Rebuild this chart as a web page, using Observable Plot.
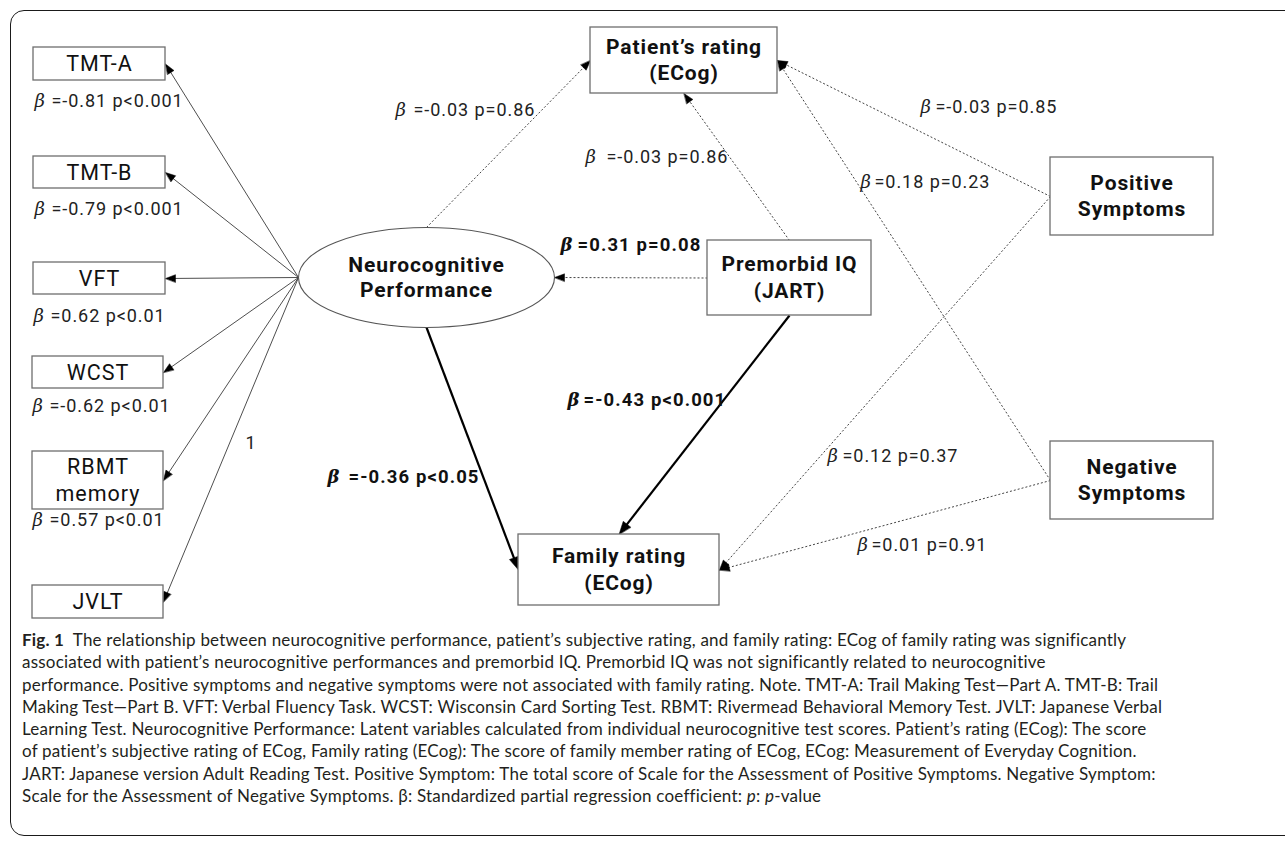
<!DOCTYPE html>
<html><head><meta charset="utf-8">
<script src="https://cdn.jsdelivr.net/npm/d3@7"></script>
<script src="https://cdn.jsdelivr.net/npm/@observablehq/plot@0.6"></script>
<style>
html,body{margin:0;padding:0;background:#fff;overflow:hidden;width:1285px;height:845px}
#frame{position:absolute;left:10px;top:10px;width:1300px;height:826px;border:1.5px solid #1a1a1a;border-radius:14px;box-sizing:border-box}
#chart{position:absolute;left:0;top:0}
#caption{position:absolute;left:22px;top:629px;font-family:Lato,"Open Sans",sans-serif;font-size:17px;line-height:22.3px;color:#231f20;white-space:pre}
#caption div{display:block}
#caption span.l{display:inline-block}
</style></head><body>
<div id="frame"></div><div id="chart"></div><div id="caption"></div>
<script>
// ---------------- data ----------------
const indicators = ["TMT-A", "TMT-B", "VFT", "WCST", "RBMT\nmemory", "JVLT"];
const loadingBeta = ["-0.81", "-0.79", "0.62", "-0.62", "0.57", null];
const loadingP = ["<0.001", "<0.001", "<0.01", "<0.01", "<0.01", null];
const fixedLoadingLabel = "1";

const constructIds = ["neuro", "patient", "premorbid", "positive", "negative", "family"];
const constructLabels = ["Neurocognitive\nPerformance", "Patient’s rating\n(ECog)", "Premorbid IQ\n(JART)", "Positive\nSymptoms", "Negative\nSymptoms", "Family rating\n(ECog)"];

const pathFrom = ["neuro", "premorbid", "positive", "negative", "premorbid", "premorbid", "neuro", "positive", "negative"];
const pathTo   = ["patient", "patient", "patient", "patient", "neuro", "family", "family", "family", "family"];
const pathBeta = ["-0.03", "-0.03", "-0.03", "0.18", "0.31", "-0.43", "-0.36", "0.12", "0.01"];
const pathPOp  = ["=", "=", "=", "=", "=", "<", "<", "=", "="];
const pathP    = ["0.86", "0.86", "0.85", "0.23", "0.08", "0.001", "0.05", "0.37", "0.91"];

const captionLead = "Fig. 1";
const captionLines = [
  "The relationship between neurocognitive performance, patient’s subjective rating, and family rating: ECog of family rating was significantly",
  "associated with patient’s neurocognitive performances and premorbid IQ. Premorbid IQ was not significantly related to neurocognitive",
  "performance. Positive symptoms and negative symptoms were not associated with family rating. Note. TMT-A: Trail Making Test—Part A. TMT-B: Trail",
  "Making Test—Part B. VFT: Verbal Fluency Task. WCST: Wisconsin Card Sorting Test. RBMT: Rivermead Behavioral Memory Test. JVLT: Japanese Verbal",
  "Learning Test. Neurocognitive Performance: Latent variables calculated from individual neurocognitive test scores. Patient’s rating (ECog): The score",
  "of patient’s subjective rating of ECog, Family rating (ECog): The score of family member rating of ECog, ECog: Measurement of Everyday Cognition.",
  "JART: Japanese version Adult Reading Test. Positive Symptom: The total score of Scale for the Assessment of Positive Symptoms. Negative Symptom:",
  "Scale for the Assessment of Negative Symptoms. β: Standardized partial regression coefficient: p: p-value"
];

// ---------------- layout ----------------
const W = 1285, H = 625;
const boxes = [ // x1, y1, x2, y2 (pixels)
  [33, 47, 165, 80], [33, 156, 165, 188], [33, 262, 165, 294], [32, 356, 163, 388], [32, 451, 163, 509], [32, 585, 163, 618]
];
const constructBoxes = {
  patient: [590, 27, 777, 93], premorbid: [707, 240, 871, 315],
  positive: [1050, 157, 1213, 235], negative: [1050, 441, 1213, 519], family: [518, 534, 719, 605]
};
const ellipses = {neuro: {cx: 426, cy: 277, rx: 128, ry: 50}};
const pathSides = [["top","left"],["top","bottom"],["left","right"],["left","right"],["left","right"],["bottom","top"],["bottom","left"],["left","right"],["left","right"]];
const loadingLabelPos = [[34, 101, 17], [34, 209, 17], [33, 316, 17], [32, 406, 17], [32, 520, 17]];
const fixedLabelPos = [245, 443];
const pathLabelPos = [[395,110,18],[585,157,21],[920,107,15],[860,182,14],[560,245,17],[567,400,16],[327,477,21],[827,456,15],[857,545,14]];
const FONT = "Roboto, 'Noto Sans', sans-serif";
const BETA_FONT = "'DejaVu Serif', serif";

function anchorOf(rect, side) {
  const [x1, y1, x2, y2] = rect, mx = (x1 + x2) / 2, my = (y1 + y2) / 2;
  return side === "left" ? [x1, my] : side === "right" ? [x2, my] : side === "top" ? [mx, y1] : [mx, y2];
}
function anchor(id, side) {
  if (ellipses[id]) { const e = ellipses[id]; return anchorOf([e.cx - e.rx, e.cy - e.ry, e.cx + e.rx, e.cy + e.ry], side); }
  return anchorOf(constructBoxes[id], side);
}
function splitLines(label, cx, cy, step) {
  const parts = label.split("\n");
  return parts.map((t, j) => ({x: cx, y: cy + (j - (parts.length - 1) / 2) * step, t}));
}

// edges
const edges = [];
indicators.forEach((name, i) => {
  const [x1, y1] = anchor("neuro", "left"), [x2, y2] = anchorOf(boxes[i], "right");
  edges.push({x1, y1, x2, y2, kind: "thin"});
});
pathFrom.forEach((f, i) => {
  const [x1, y1] = anchor(f, pathSides[i][0]), [x2, y2] = anchor(pathTo[i], pathSides[i][1]);
  edges.push({x1, y1, x2, y2, kind: pathPOp[i] === "<" ? "thick" : "dotted"});
});
const heads = [];
const lines = edges.map((e, k) => {
  const dx = e.x2 - e.x1, dy = e.y2 - e.y1, len = Math.hypot(dx, dy), ux = dx / len, uy = dy / len;
  const L = e.kind === "thick" ? 13 : 10, w = e.kind === "thick" ? 9.5 : 7.5;
  const bx = e.x2 - ux * L, by = e.y2 - uy * L, nx = -uy, ny = ux;
  heads.push({id: k, x: e.x2, y: e.y2}, {id: k, x: bx + nx * w / 2, y: by + ny * w / 2}, {id: k, x: bx - nx * w / 2, y: by - ny * w / 2});
  return {...e, x2: e.x2 - ux * L * 0.6, y2: e.y2 - uy * L * 0.6};
});

// rects & labels
const rectRows = boxes.map((b, i) => ({x1: b[0], y1: b[1], x2: b[2], y2: b[3]}));
const constructRectRows = Object.keys(constructBoxes).map(id => {
  const b = constructBoxes[id]; return {x1: b[0], y1: b[1], x2: b[2], y2: b[3], id};
});
const indicatorLabelRows = boxes.flatMap((b, i) => splitLines(indicators[i], (b[0] + b[2]) / 2, (b[1] + b[3]) / 2 + 0.5, 27));
const constructLabelRows = constructIds.flatMap((id, i) => {
  const e = ellipses[id];
  if (e) return splitLines(constructLabels[i], e.cx, e.cy + 0.5, 25.5);
  const b = constructBoxes[id];
  return splitLines(constructLabels[i], (b[0] + b[2]) / 2, (b[1] + b[3]) / 2, 26.5);
});
const ellipseRows = Object.keys(ellipses).map(id => ({id, ...ellipses[id]}));
const ellipseSymbol = {
  draw(ctx, size) {
    const r = Math.sqrt(size / Math.PI), rx = r, ry = r * ellipses.neuro.ry / ellipses.neuro.rx, k = 0.5522847498;
    ctx.moveTo(rx, 0);
    ctx.bezierCurveTo(rx, ry * k, rx * k, ry, 0, ry);
    ctx.bezierCurveTo(-rx * k, ry, -rx, ry * k, -rx, 0);
    ctx.bezierCurveTo(-rx, -ry * k, -rx * k, -ry, 0, -ry);
    ctx.bezierCurveTo(rx * k, -ry, rx, -ry * k, rx, 0);
    ctx.closePath();
  }
};

// coefficient labels
const regBeta = [], regRest = [], boldBeta = [], boldRest = [];
loadingBeta.forEach((b, i) => {
  if (b == null) return;
  const [x, y, g] = loadingLabelPos[i];
  regBeta.push({x, y, t: "β"}); regRest.push({x: x + g, y, t: `=${b} p${loadingP[i]}`});
});
pathBeta.forEach((b, i) => {
  const [x, y, g] = pathLabelPos[i];
  const bold = +pathP[i] <= 0.08;
  (bold ? boldBeta : regBeta).push({x, y, t: "β"});
  (bold ? boldRest : regRest).push({x: x + g, y, t: `=${b} p${pathPOp[i]}${pathP[i]}`});
});

const chart = Plot.plot({
  width: W, height: H, margin: 0,
  x: {domain: [0, W], range: [0, W], axis: null},
  y: {domain: [0, H], range: [0, H], axis: null},
  style: {background: "transparent", overflow: "visible"},
  marks: [
    Plot.link(lines.filter(d => d.kind === "thin"), {x1: "x1", y1: "y1", x2: "x2", y2: "y2", stroke: "#3a3a3a", strokeWidth: 0.9}),
    Plot.link(lines.filter(d => d.kind === "dotted"), {x1: "x1", y1: "y1", x2: "x2", y2: "y2", stroke: "#444", strokeWidth: 1, strokeDasharray: "2,2"}),
    Plot.link(lines.filter(d => d.kind === "thick"), {x1: "x1", y1: "y1", x2: "x2", y2: "y2", stroke: "#000", strokeWidth: 2.2}),
    Plot.line(heads, {x: "x", y: "y", z: "id", curve: "linear-closed", fill: "#000", stroke: "#000", strokeWidth: 0.5}),
    Plot.rect(rectRows, {x1: "x1", y1: "y1", x2: "x2", y2: "y2", fill: "white", stroke: "#6e6e6e", strokeWidth: 1.3}),
    Plot.rect(constructRectRows, {x1: "x1", y1: "y1", x2: "x2", y2: "y2", fill: "white", stroke: "#6e6e6e", strokeWidth: 1.3}),
    Plot.dot(ellipseRows, {x: "cx", y: "cy", r: ellipses.neuro.rx, symbol: ellipseSymbol, fill: "white", stroke: "#555", strokeWidth: 1.1}),
    Plot.text(indicatorLabelRows, {x: "x", y: "y", text: "t", fontSize: 21.5, fill: "#111", fontFamily: FONT}),
    Plot.text(constructLabelRows, {x: "x", y: "y", text: "t", fontSize: 21, fontWeight: "bold", fill: "#111", fontFamily: FONT}),
    Plot.text(regBeta, {x: "x", y: "y", text: "t", fontSize: 18, fontStyle: "italic", textAnchor: "start", fill: "#222", fontFamily: BETA_FONT}),
    Plot.text(regRest, {x: "x", y: "y", text: "t", fontSize: 18, textAnchor: "start", fill: "#222", fontFamily: FONT}),
    Plot.text(boldBeta, {x: "x", y: "y", text: "t", fontSize: 18, fontStyle: "italic", fontWeight: "bold", textAnchor: "start", fill: "#111", fontFamily: BETA_FONT}),
    Plot.text(boldRest, {x: "x", y: "y", text: "t", fontSize: 18.5, fontWeight: "bold", textAnchor: "start", fill: "#111", fontFamily: FONT}),
    Plot.text([{x: fixedLabelPos[0], y: fixedLabelPos[1], t: fixedLoadingLabel}], {x: "x", y: "y", text: "t", fontSize: 18, textAnchor: "start", fill: "#222", fontFamily: FONT})
  ]
});
// letter spacing per text layer (indicator, construct, beta, rest, boldBeta, boldRest, fixed)
const spacing = [1, 0.9, 0, 0.95, 0, 1.1, 0];
chart.querySelectorAll('g[aria-label="text"]').forEach((g, i) => { if (spacing[i]) g.style.letterSpacing = spacing[i] + "px"; });
document.getElementById("chart").appendChild(chart);

// caption
const esc = s => s.replace(/&/g, "&amp;").replace(/</g, "&lt;");
const cap = document.getElementById("caption");
cap.innerHTML = captionLines.map((l, i) => {
  let h = esc(l).replace(/: p: p-value$/, ": <i>p</i>: <i>p</i>-value");
  if (i === 0) h = `<b>${captionLead}</b>  ` + h;
  return `<div><span class="l">${h}</span></div>`;
}).join("");
const first = cap.querySelector("span.l");
const w0 = first.getBoundingClientRect().width;
const n0 = (captionLead + "  " + captionLines[0]).length;
cap.style.letterSpacing = ((1106 - w0) / n0).toFixed(3) + "px";
</script></body></html>
